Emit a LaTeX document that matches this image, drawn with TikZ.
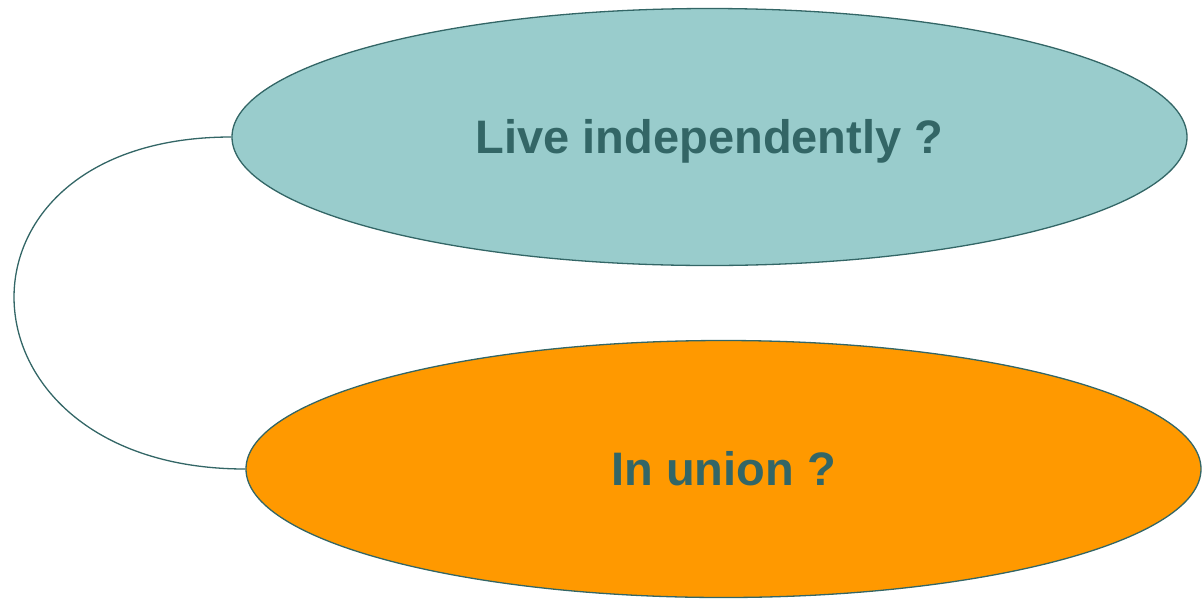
\documentclass[tikz,border=0pt]{standalone}
\usepackage{fontspec}
\setmainfont{Liberation Sans}
\usetikzlibrary{shapes.geometric, positioning}
\definecolor{tealline}{HTML}{336666}
\definecolor{tealfill}{HTML}{99CCCC}
\definecolor{orangefill}{HTML}{FF9900}

\begin{document}
\begin{tikzpicture}[x=1pt,y=-1pt,on grid,
    bubble/.style={ellipse, draw=tealline, line width=1.3pt, inner sep=0pt,
        minimum width=955pt, minimum height=257pt, text=tealline,
        text height=33.6pt, text depth=0pt,
        font=\fontsize{47}{50}\selectfont\bfseries}]
    \useasboundingbox (0,0) rectangle (1202,598);

    \node[bubble, fill=tealfill] (L) at (709.5,137) {Live independently ?};
    \node[bubble, fill=orangefill] (U) [below=332pt of L, xshift=14pt] {In union ?};

    \draw[tealline, line width=1.3pt] (L.west) to [out=180, in=180, looseness=2.3] (U.west);
\end{tikzpicture}
\end{document}
